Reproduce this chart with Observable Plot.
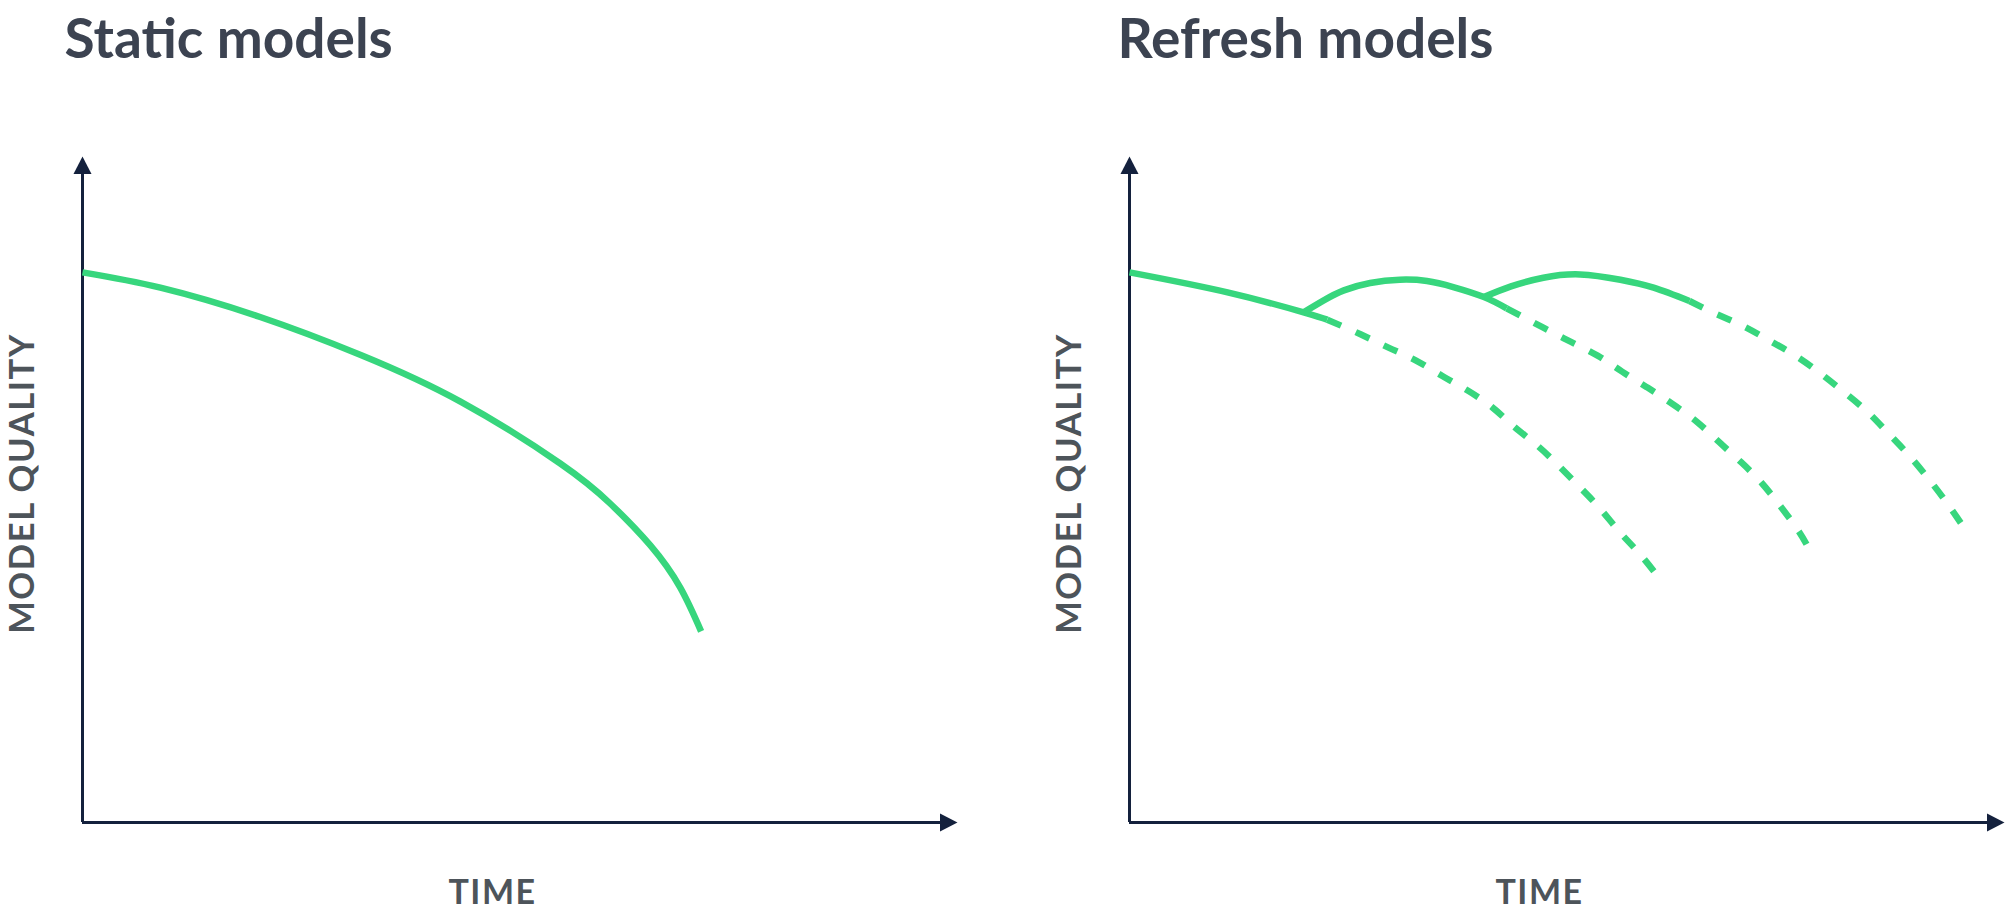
<!DOCTYPE html>
<html>
<head>
<meta charset="utf-8">
<script src="https://cdn.jsdelivr.net/npm/d3@7"></script>
<script src="https://cdn.jsdelivr.net/npm/@observablehq/plot@0.6"></script>
<style>
  html, body { margin: 0; padding: 0; background: #ffffff; overflow: hidden; }
  #wrap { display: flex; flex-direction: row; width: 2007px; height: 915px; }
  svg { display: block; }
</style>
</head>
<body>
<div id="wrap"></div>
<script>
// ---------- text ----------
const panelTitles = ["Static models", "Refresh models"];
const xLabel = "TIME";
const yLabel = "MODEL QUALITY";

// ---------- scale domains ----------
const timeDomain = [0, 100];
const qualityDomain = [0, 100];

// ---------- Static models ----------
const staticTime    = [0, 8.9, 20.3, 31.8, 43.2, 54.6, 60.3, 64.9, 68.3, 70.7];
const staticQuality = [82.6, 80.3, 75.9, 70.2, 63.2, 53.9, 47.9, 41.6, 35.3, 28.7];

// ---------- Refresh models ----------
// original model: solid part, then projected decay (dashed)
const baseSolidTime    = [0, 11.2, 19.9, 22.6];
const baseSolidQuality = [82.6, 79.6, 76.6, 75.5];
const baseDashTime     = [22.6, 26.4, 29.6, 32.7, 35.8, 38.6, 41.5, 43.9, 46.6, 49.1, 51.5, 53.8, 56.1, 58.4, 61.0];
const baseDashQuality  = [75.5, 73.3, 71.3, 69.4, 67.0, 64.9, 62.3, 59.5, 56.6, 53.5, 50.3, 47.1, 43.5, 40.2, 35.9];

// first refresh
const refresh1SolidTime    = [19.9, 22.2, 24.5, 27.5, 30.9, 34.0, 37.0, 40.5, 43.1];
const refresh1SolidQuality = [76.6, 78.4, 79.9, 81.0, 81.5, 81.3, 80.4, 78.9, 77.2];
const refresh1DashTime     = [43.1, 47.3, 50.4, 53.5, 56.3, 59.2, 62.1, 64.9, 67.4, 69.9, 72.3, 74.5, 76.5, 77.9];
const refresh1DashQuality  = [77.2, 74.3, 72.2, 70.1, 67.7, 65.3, 62.8, 60.1, 57.1, 54.1, 50.9, 47.3, 43.7, 40.5];

// second refresh
const refresh2SolidTime    = [40.5, 43.6, 47.3, 51.5, 56.1, 59.9, 64.0];
const refresh2SolidQuality = [78.9, 80.5, 81.8, 82.3, 81.5, 80.3, 78.3];
const refresh2DashTime     = [64.0, 67.0, 70.2, 73.1, 76.1, 79.0, 81.6, 84.3, 86.6, 88.9, 91.2, 93.3, 95.0];
const refresh2DashQuality  = [78.3, 76.4, 74.5, 72.4, 70.1, 67.4, 64.7, 61.7, 58.6, 55.4, 51.8, 48.2, 45.0];

// ---------- styling ----------
const GREEN = "#37d67d";
const NAVY = "#14213d";
const TITLE_COLOR = "#3c4351";
const LABEL_COLOR = "#4d545a";
const FONT = "Lato, 'Open Sans', sans-serif";

const toRows = (xs, ys) => xs.map((t, i) => ({time: t, quality: ys[i]}));

// filled arrowhead, tip at origin pointing up
const arrowHead = {
  draw(ctx) {
    ctx.moveTo(0, 0);
    ctx.lineTo(9, 17.5);
    ctx.lineTo(-9, 17.5);
    ctx.closePath();
  }
};

function curve(xs, ys, dashed) {
  return Plot.line(toRows(xs, ys), {
    x: "time", y: "quality",
    curve: "natural",
    stroke: GREEN,
    strokeWidth: 6.5,
    strokeLinecap: "butt",
    strokeLinejoin: "round",
    strokeDasharray: dashed ? "15,16" : null
  });
}

function panel(title, width, titleDx, lines) {
  const marginLeft = 82;
  const marginRight = width - 957;
  const marginTop = 156;
  const marginBottom = 93;
  const TF = 55, LF = 34, YF = 34.5;
  const svg = Plot.plot({
    width, height: 915,
    marginLeft, marginRight, marginTop, marginBottom,
    x: {domain: timeDomain, axis: null},
    y: {domain: qualityDomain, axis: null},
    style: {background: "white", overflow: "visible"},
    marks: [
      // axes
      Plot.ruleX([timeDomain[0]], {stroke: NAVY, strokeWidth: 3, insetTop: 12}),
      Plot.ruleY([qualityDomain[0]], {stroke: NAVY, strokeWidth: 3, insetRight: 12}),
      Plot.dot([0], {frameAnchor: "top-left", symbol: arrowHead, fill: NAVY, stroke: null}),
      Plot.dot([0], {frameAnchor: "bottom-right", symbol: arrowHead, fill: NAVY, stroke: null, rotate: 90}),
      // curves
      ...lines,
      // title
      Plot.text([title], {
        text: d => d, frameAnchor: "top-left", textAnchor: "start", lineAnchor: "top",
        dx: titleDx, dy: 57 - 0.71 * TF - marginTop,
        fontFamily: FONT, fontWeight: 700, fontSize: TF, fill: TITLE_COLOR
      }),
      // x label
      Plot.text([xLabel], {
        text: d => d, frameAnchor: "bottom-left", textAnchor: "middle", lineAnchor: "top",
        dx: 410, dy: 903 - 0.71 * LF - (915 - marginBottom),
        fontFamily: FONT, fontWeight: 700, fontSize: LF, fill: LABEL_COLOR
      }),
      // y label
      Plot.text([yLabel], {
        text: d => d, frameAnchor: "left", textAnchor: "middle", lineAnchor: "middle",
        rotate: -90, dx: 22.5 - marginLeft, dy: -6,
        fontFamily: FONT, fontWeight: 700, fontSize: YF, fill: LABEL_COLOR
      })
    ]
  });
  // wider tracking on the axis labels, as in the original
  d3.select(svg).selectAll("text").each(function () {
    const t = this.textContent;
    if (t === yLabel) this.setAttribute("letter-spacing", "1.6");
    if (t === xLabel) this.setAttribute("letter-spacing", "1.5");
  });
  return svg;
}

const left = panel(panelTitles[0], 1047, -18, [
  curve(staticTime, staticQuality, false)
]);

const right = panel(panelTitles[1], 960, -12, [
  curve(baseDashTime, baseDashQuality, true),
  curve(refresh1DashTime, refresh1DashQuality, true),
  curve(refresh2DashTime, refresh2DashQuality, true),
  curve(baseSolidTime, baseSolidQuality, false),
  curve(refresh1SolidTime, refresh1SolidQuality, false),
  curve(refresh2SolidTime, refresh2SolidQuality, false)
]);

const wrap = document.getElementById("wrap");
wrap.appendChild(left);
wrap.appendChild(right);
</script>
</body>
</html>
